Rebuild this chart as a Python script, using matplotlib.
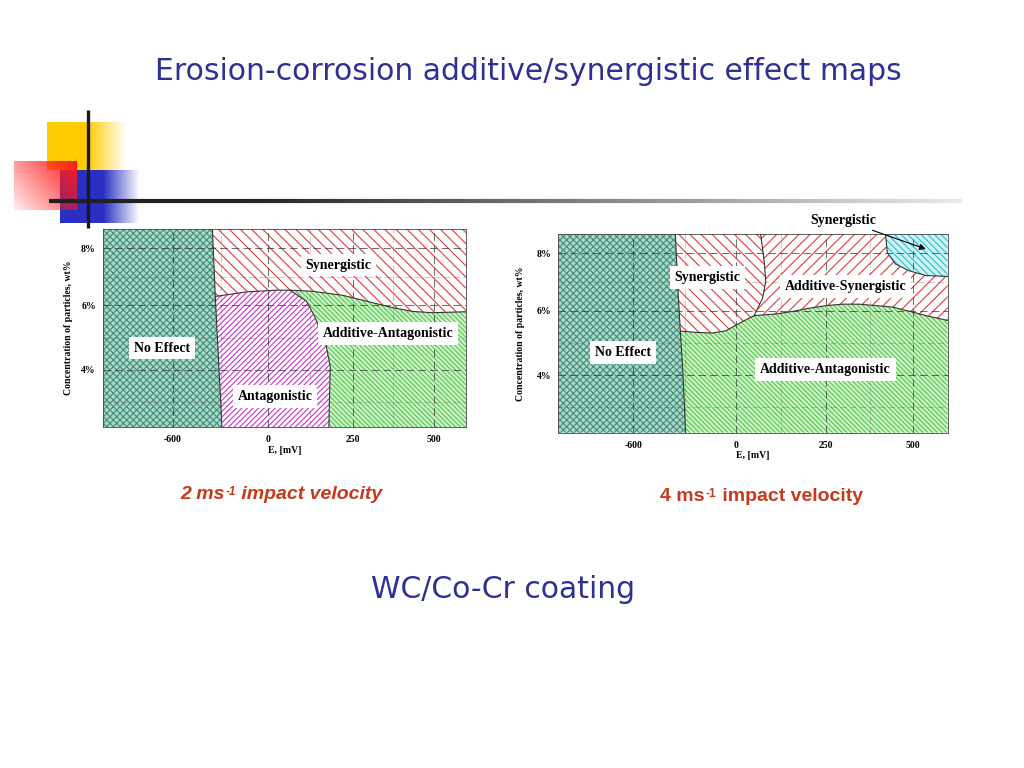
import numpy as np
import matplotlib
matplotlib.use("Agg")
import matplotlib.pyplot as plt
from matplotlib.collections import LineCollection

plt.rcParams['hatch.linewidth'] = 0.8

# ------------------------------------------------------------------ data
TITLE = "Erosion-corrosion additive/synergistic effect maps"
SUBTITLE = "WC/Co-Cr coating"
x_ticks = [-600, 0, 250, 500]
x_ticklabels = ["-600", "0", "250", "500"]
y_ticks = [4, 6, 8]
y_ticklabels = ["4%", "6%", "8%"]
x_label = "E, [mV]"
y_label = "Concentration of particles, wt%"
E_min, E_max = -1040, 600
C_min, C_max = 2.2, 8.7

# --- 2 m/s map: region boundaries (E in mV, concentration in wt%)
L_noeff_E = [-351, -333, -291]
L_noeff_C = [8.7, 6.31, 2.2]
L_syn_E = [-333, -136, 25, 64, 132, 221, 291, 373, 435, 497, 600]
L_syn_C = [6.31, 6.47, 6.53, 6.53, 6.49, 6.35, 6.15, 5.93, 5.81, 5.77, 5.80]
L_ant_E = [64, 113, 137, 172, 184, 182, 180]
L_ant_C = [6.53, 6.15, 5.67, 4.73, 4.10, 3.26, 2.2]
L_labels = ["Synergistic", "Additive-Antagonistic", "No Effect", "Antagonistic"]
L_label_E = [208, 360, -667, 20]
L_label_C = [7.41, 5.12, 4.67, 3.16]

# --- 4 m/s map
R_noeff_E = [-354, -339, -325, -310, -294]
R_noeff_C = [8.7, 6.76, 5.37, 4.10, 2.2]
R_grn_E = [-325, -232, -136, -58, 0, 18, 51, 111, 157, 204, 250, 297, 345, 393, 440, 488, 537, 600]
R_grn_C = [5.37, 5.33, 5.31, 5.38, 5.55, 5.66, 5.85, 5.90, 5.98, 6.09, 6.18, 6.23, 6.23, 6.18, 6.13, 5.99, 5.85, 5.70]
R_bulb_E = [69, 79, 83, 74, 51]
R_bulb_C = [8.7, 7.70, 7.01, 6.43, 5.85]
R_cyan_E = [421, 426, 450, 488, 537, 600]
R_cyan_C = [8.7, 8.03, 7.63, 7.40, 7.23, 7.20]
R_labels = ["Synergistic", "Additive-Synergistic", "No Effect", "Additive-Antagonistic"]
R_label_E = [-166, 305, -663, 248]
R_label_C = [7.17, 6.85, 4.70, 4.17]
R_arrow_label = "Synergistic"
R_arrow_tip = (537, 8.16)

CAPTION_L = ("2 ms", "-1", " impact velocity")
CAPTION_R = ("4 ms", "-1", " impact velocity")

# ------------------------------------------------------------------ scales
E_knots = [-1040, -600, 0, 250, 500, 600]
U_knots = [-0.832, 0.0, 1.133, 2.133, 3.096, 3.48]
C_knots = [2.2, 4, 6, 8, 8.7]
V_knots = [-0.89, 0.0, 1.0, 1.888, 2.19]


def fx(e):
    return np.interp(e, E_knots, U_knots)


def ix(u):
    return np.interp(u, U_knots, E_knots)


def fy(c):
    return np.interp(c, C_knots, V_knots)


def iy(v):
    return np.interp(v, V_knots, C_knots)


SERIF = ['Liberation Serif', 'DejaVu Serif']
NAVY = '#2e3192'
CAP = '#c8391c'

STY = {
    'noeff': dict(facecolor='#aed6c9', edgecolor='#3f8f7a', hatch='xxxxx'),
    'syn': dict(facecolor='white', edgecolor='#e23c3c', hatch='\\\\\\'),
    'syn2': dict(facecolor='white', edgecolor='#e23c3c', hatch='///'),
    'ant': dict(facecolor='white', edgecolor='#cc33cc', hatch='//////'),
    'grn': dict(facecolor='#d0f4c8', edgecolor='#52c750', hatch='\\\\\\\\\\\\\\'),
    'cyan': dict(facecolor='#cdf4f8', edgecolor='#2fbccb', hatch='\\\\\\\\\\'),
}

fig = plt.figure(figsize=(10.24, 7.68), dpi=100)

# ------------------------------------------------------------------ slide decoration (pixel coords)
deco = fig.add_axes([0, 0, 1, 1])
deco.set_xlim(0, 1024)
deco.set_ylim(768, 0)
deco.axis('off')


def grad_img(color, w, h, alpha_fn):
    xs = np.linspace(0, 1, w)[None, :]
    ys = np.linspace(0, 1, h)[:, None]
    a = np.clip(alpha_fn(xs, ys), 0, 1)
    rgb = np.array(matplotlib.colors.to_rgb(color))
    img = np.ones((h, w, 4))
    img[..., :3] = rgb
    img[..., 3] = a
    return img


yel = grad_img('#ffcc00', 80, 40, lambda x, y: np.where(x < 0.5, 1.0, 1 - (x - 0.5) / 0.5) + 0 * y)
deco.imshow(yel, extent=(47, 127, 170, 122.7), aspect='auto', zorder=1)
blu = grad_img('#2a2fc4', 80, 40, lambda x, y: np.where(x < 0.54, 1.0, 1 - (x - 0.54) / 0.46) + 0 * y)
deco.imshow(blu, extent=(60, 140, 223, 170), aspect='auto', zorder=2)
red = grad_img('#ff1a1a', 64, 48, lambda x, y: 0.08 + 0.92 * (0.6 * x + 0.4 * (1 - y)) ** 1.0)
deco.imshow(red, extent=(14, 77, 210, 161.7), aspect='auto', zorder=3)
deco.plot([87.5, 87.5], [110, 228], color='#1a1a1a', lw=2.4, solid_capstyle='butt', zorder=5)
xs = np.linspace(49, 962, 200)
segs = [[(xs[i], 201), (xs[i + 1], 201)] for i in range(len(xs) - 1)]
gv = np.interp(xs[:-1], [49, 260, 962], [0.12, 0.15, 0.92])
deco.add_collection(LineCollection(segs, colors=[(g, g, g) for g in gv], linewidths=3.0, zorder=4))
deco.set_xlim(0, 1024)
deco.set_ylim(768, 0)

fig.text(528 / 1024, 1 - 72 / 768, TITLE, ha='center', va='center', fontsize=21.5,
         color=NAVY, family='DejaVu Sans')
fig.text(503 / 1024, 1 - 590 / 768, SUBTITLE, ha='center', va='center', fontsize=21.5,
         color=NAVY, family='DejaVu Sans')


def caption(parts, x_px, base_px, italic, size):
    st = 'italic' if italic else 'normal'
    kw = dict(color=CAP, family=['Liberation Sans', 'DejaVu Sans'], fontweight='bold', style=st)
    t1 = deco.text(x_px, base_px, parts[0], fontsize=size, va='baseline', ha='left', **kw)
    t2 = deco.annotate(parts[1], xy=(1, 1), xycoords=t1, va='top', ha='left', fontsize=8.5,
                       xytext=(1, 0), textcoords='offset points', **kw)
    deco.annotate(parts[2], xy=(1, 0), xycoords=(t2, t1), va='bottom', ha='left', fontsize=size, **kw)


caption(CAPTION_L, 180, 499, True, 14)
caption(CAPTION_R, 660, 501, False, 14)


# ------------------------------------------------------------------ map axes
def setup(ax, ylab_pad):
    ax.set_xscale('function', functions=(fx, ix))
    ax.set_yscale('function', functions=(fy, iy))
    ax.set_xlim(E_min, E_max)
    ax.set_ylim(C_min, C_max)
    ax.set_xticks(x_ticks, x_ticklabels)
    ax.set_yticks(y_ticks, y_ticklabels)
    ax.set_xticks([-300, 125, 375], minor=True)
    ax.set_yticks([3, 5, 7], minor=True)
    ax.tick_params(which='both', length=0)
    ax.tick_params(axis='x', pad=6)
    ax.tick_params(axis='y', pad=5)
    for lab in ax.get_xticklabels() + ax.get_yticklabels():
        lab.set_family(SERIF)
        lab.set_fontweight('bold')
        lab.set_fontsize(7)
    ax.set_xlabel(x_label, family=SERIF, fontweight='bold', fontsize=7, labelpad=1)
    ax.set_ylabel(y_label, family=SERIF, fontweight='bold', fontsize=7, labelpad=ylab_pad)
    ax.set_axisbelow(False)
    ax.grid(which='major', color='#2a2a2a', lw=0.6, ls=(0, (9, 5)), alpha=0.8)
    ax.grid(which='minor', color='#555555', lw=0.5, ls=(0, (9, 5)), alpha=0.45)
    for s in ax.spines.values():
        s.set_linewidth(0.6)
        s.set_color('#444444')


def region(ax, E, C, key):
    ax.fill(E, C, lw=0, zorder=1, **STY[key])


def bline(ax, E, C):
    ax.plot(E, C, color='#333333', lw=0.8, zorder=2)


def labels(ax, names, Es, Cs):
    for n, e, c in zip(names, Es, Cs):
        ax.text(e, c, n, ha='center', va='center', family=SERIF, fontweight='bold', fontsize=10,
                zorder=5, bbox=dict(facecolor='white', edgecolor='none', pad=3.5))


# ---- left map (2 m/s)
axL = fig.add_axes([102.7 / 1024, 1 - 427 / 768, 363.3 / 1024, 198.3 / 768])
setup(axL, 6)
k = L_syn_E.index(L_ant_E[0])
region(axL, [E_min] + L_noeff_E + [E_min], [C_max] + L_noeff_C + [C_min], 'noeff')
region(axL, [L_noeff_E[0], E_max] + L_syn_E[::-1], [C_max, C_max] + L_syn_C[::-1], 'syn')
region(axL, L_syn_E[:k + 1] + L_ant_E[1:] + L_noeff_E[:0:-1],
       L_syn_C[:k + 1] + L_ant_C[1:] + L_noeff_C[:0:-1], 'ant')
region(axL, L_ant_E + [E_max] + L_syn_E[:k:-1], L_ant_C + [C_min] + L_syn_C[:k:-1], 'grn')
bline(axL, L_noeff_E, L_noeff_C)
bline(axL, L_syn_E, L_syn_C)
bline(axL, L_ant_E, L_ant_C)
labels(axL, L_labels, L_label_E, L_label_C)

# ---- right map (4 m/s)
axR = fig.add_axes([558.3 / 1024, 1 - 432.7 / 768, 389.4 / 1024, 198.7 / 768])
setup(axR, 8)
n = R_noeff_E.index(R_grn_E[0])
j = R_grn_E.index(R_bulb_E[-1])
region(axR, [E_min] + R_noeff_E + [E_min], [C_max] + R_noeff_C + [C_min], 'noeff')
region(axR, [R_noeff_E[0]] + R_bulb_E + R_grn_E[j - 1::-1] + R_noeff_E[1:n][::-1],
       [C_max] + R_bulb_C + R_grn_C[j - 1::-1] + R_noeff_C[1:n][::-1], 'syn')
region(axR, R_bulb_E + R_grn_E[j + 1:] + R_cyan_E[::-1],
       R_bulb_C + R_grn_C[j + 1:] + R_cyan_C[::-1], 'syn2')
region(axR, R_cyan_E + [E_max], R_cyan_C + [C_max], 'cyan')
region(axR, R_grn_E + [E_max] + R_noeff_E[:n:-1], R_grn_C + [C_min] + R_noeff_C[:n:-1], 'grn')
bline(axR, R_noeff_E, R_noeff_C)
bline(axR, R_grn_E, R_grn_C)
bline(axR, R_bulb_E, R_bulb_C)
bline(axR, R_cyan_E, R_cyan_C)
labels(axR, R_labels, R_label_E, R_label_C)
axR.annotate(R_arrow_label, xy=R_arrow_tip, xycoords='data', xytext=(0.732, 1.07),
             textcoords='axes fraction', ha='center', va='center', family=SERIF,
             fontweight='bold', fontsize=10, annotation_clip=False, zorder=6,
             arrowprops=dict(arrowstyle='-|>', color='black', lw=0.8, mutation_scale=9,
                             shrinkA=2, shrinkB=0))

fig.savefig('out.png', dpi=100)
